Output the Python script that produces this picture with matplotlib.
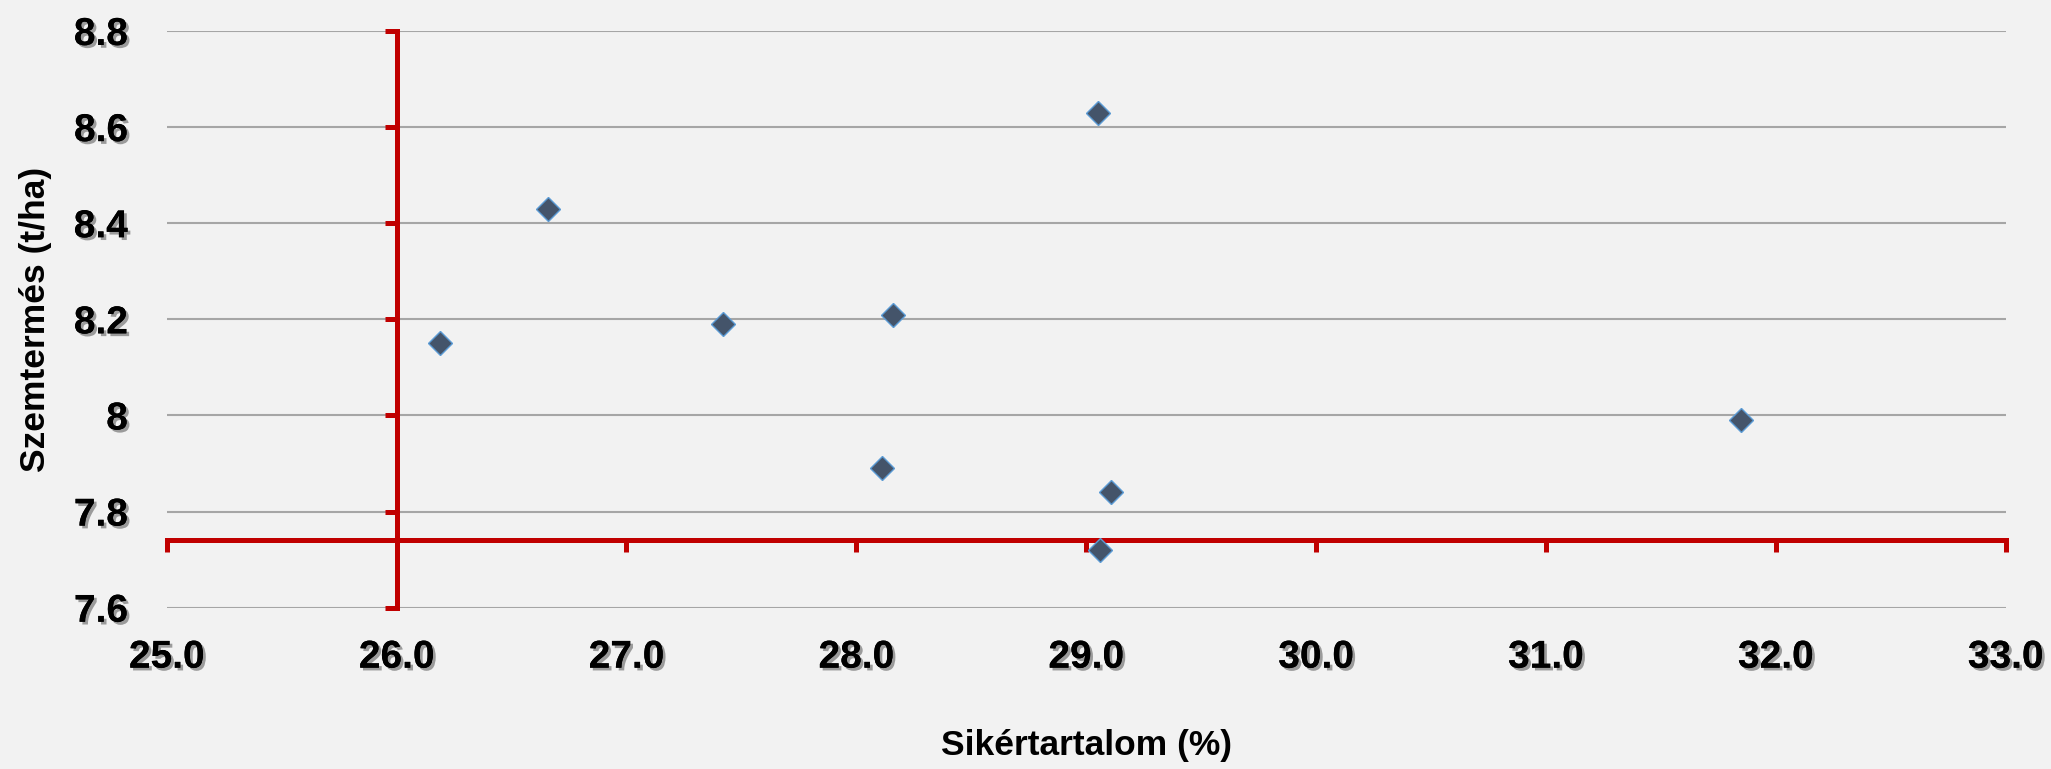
import matplotlib
matplotlib.use("Agg")
import matplotlib.pyplot as plt
import matplotlib.patheffects as pe
from matplotlib.ticker import FixedLocator, FixedFormatter

# data
sikertartalom = [26.19, 26.66, 27.42, 28.16, 28.11, 29.05, 29.11, 29.06, 31.85]
szemtermes = [8.15, 8.43, 8.19, 8.21, 7.89, 8.63, 7.84, 7.72, 7.99]

x_ticks = [25.0, 26.0, 27.0, 28.0, 29.0, 30.0, 31.0, 32.0, 33.0]
x_ticklabels = ["25.0", "26.0", "27.0", "28.0", "29.0", "30.0", "31.0", "32.0", "33.0"]
y_ticks = [7.6, 7.8, 8.0, 8.2, 8.4, 8.6, 8.8]
y_ticklabels = ["7.6", "7.8", "8", "8.2", "8.4", "8.6", "8.8"]

x_label = "Sikértartalom (%)"
y_label = "Szemtermés (t/ha)"

# where the red axes cross
cross_x = 26.0
cross_y = 7.74

plt.rcParams["font.family"] = ["Liberation Sans Narrow", "Liberation Sans", "DejaVu Sans"]
plt.rcParams["font.weight"] = "bold"

bg = "#f2f2f2"
red = "#c00000"

fig = plt.figure(figsize=(20.51, 7.69), dpi=100, facecolor=bg)
rect = [0.0813, 0.2097, 0.8966, 0.75]

# base axes: background, grid, tick labels
ax = fig.add_axes(rect, facecolor=bg)
ax.set_xlim(25, 33)
ax.set_ylim(7.6, 8.8)
ax.xaxis.set_major_locator(FixedLocator(x_ticks))
ax.xaxis.set_major_formatter(FixedFormatter(x_ticklabels))
ax.yaxis.set_major_locator(FixedLocator(y_ticks))
ax.yaxis.set_major_formatter(FixedFormatter(y_ticklabels))
ax.grid(axis="y", color="#a6a6a6", linewidth=1.5)
ax.set_axisbelow(True)
for s in ax.spines.values():
    s.set_visible(False)
ax.tick_params(axis="x", length=0, pad=23, labelsize=28)
ax.tick_params(axis="y", length=0, pad=28, labelsize=28)
shadow = [pe.withSimplePatchShadow(offset=(2, -2), shadow_rgbFace="#555555", alpha=0.55), pe.Normal()]
for lab in ax.get_xticklabels() + ax.get_yticklabels():
    lab.set_fontweight("bold")
    lab.set_path_effects(shadow)

ax.set_xlabel(x_label, fontsize=25.5, fontweight="bold", va="top")
ax.xaxis.set_label_coords(0.5, -0.21)
ax.set_ylabel(y_label, fontsize=25.5, fontweight="bold")
ax.yaxis.set_label_coords(-0.0624, 0.5)

# overlay axes: red crossing axes with tick marks
axr = fig.add_axes(rect, facecolor="none", sharex=ax, sharey=ax)
axr.spines["top"].set_visible(False)
axr.spines["right"].set_visible(False)
axr.spines["left"].set_position(("data", cross_x))
axr.spines["bottom"].set_position(("data", cross_y))
for side in ("left", "bottom"):
    axr.spines[side].set_color(red)
    axr.spines[side].set_linewidth(3.6)
axr.tick_params(axis="both", which="major", direction="out", color=red,
                length=8.6, width=3.6, labelleft=False, labelbottom=False)

axr.plot(sikertartalom, szemtermes, linestyle="none", marker="D", markersize=12,
         markerfacecolor="#44546a", markeredgecolor="#5b9bd5", markeredgewidth=1.0,
         zorder=3, clip_on=False)

fig.savefig("out.png", dpi=100, facecolor=bg)
